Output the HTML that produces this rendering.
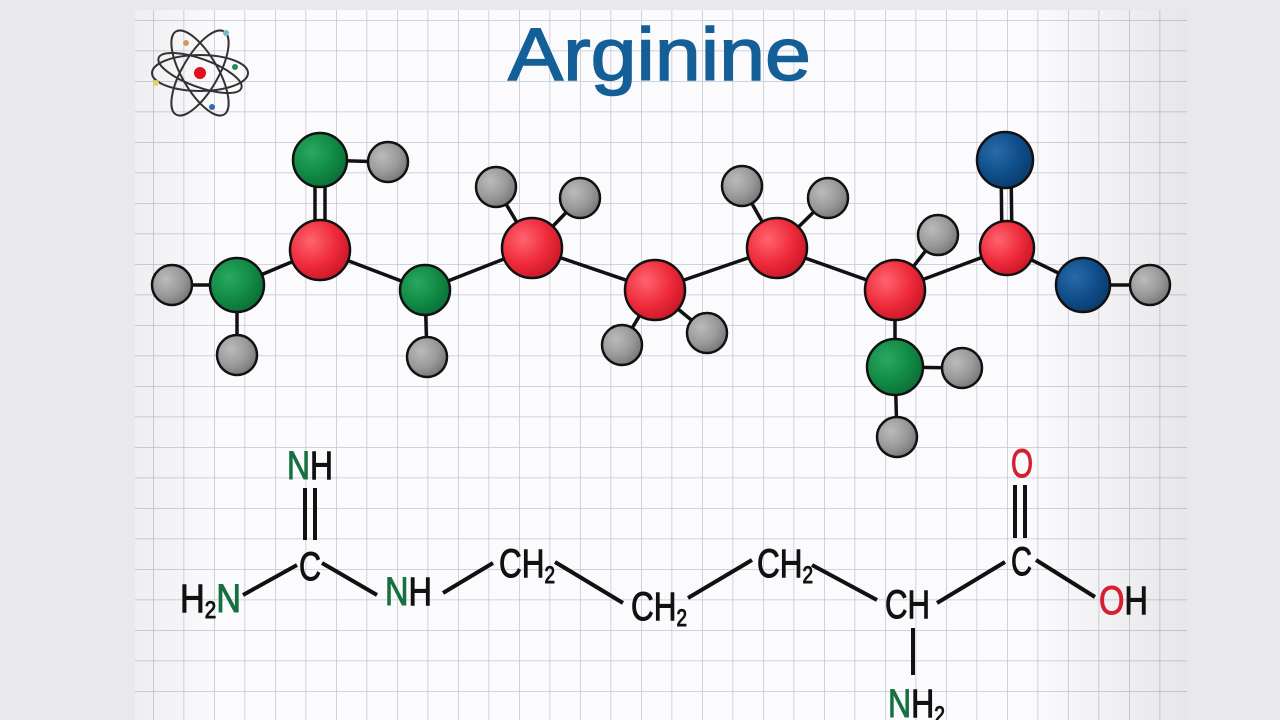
<!DOCTYPE html>
<html><head><meta charset="utf-8"><style>
html,body{margin:0;padding:0;width:1280px;height:720px;overflow:hidden;background:#e9e9eb}
svg{display:block}
</style></head><body>
<svg width="1280" height="720" viewBox="0 0 1280 720" xmlns="http://www.w3.org/2000/svg">
<defs>
<pattern id="g" x="153" y="20" width="30.5" height="30.5" patternUnits="userSpaceOnUse">
<path d="M0 0H30.5M0 0V30.5" stroke="#c2c6d2" stroke-width="1.5" fill="none"/>
</pattern>
<linearGradient id="sh" x1="0" x2="1" y1="0" y2="0">
<stop offset="0" stop-color="#000" stop-opacity="0.05"/>
<stop offset="0.08" stop-color="#000" stop-opacity="0"/>
<stop offset="0.85" stop-color="#000" stop-opacity="0"/>
<stop offset="1" stop-color="#000" stop-opacity="0.08"/>
</linearGradient>
<radialGradient id="r" cx="0.35" cy="0.35" r="0.7"><stop offset="0" stop-color="#ff6470"/><stop offset="0.6" stop-color="#ee2a3a"/><stop offset="1" stop-color="#c81828"/></radialGradient>
<radialGradient id="gr" cx="0.35" cy="0.35" r="0.7"><stop offset="0" stop-color="#2aa860"/><stop offset="0.6" stop-color="#118a45"/><stop offset="1" stop-color="#0b6e36"/></radialGradient>
<radialGradient id="b" cx="0.35" cy="0.35" r="0.7"><stop offset="0" stop-color="#2a6aa8"/><stop offset="0.6" stop-color="#0f4d8a"/><stop offset="1" stop-color="#0a3b6c"/></radialGradient>
<radialGradient id="h" cx="0.35" cy="0.35" r="0.7"><stop offset="0" stop-color="#bbb"/><stop offset="0.6" stop-color="#999"/><stop offset="1" stop-color="#777"/></radialGradient>
</defs>
<rect x="135" y="10" width="1052" height="710" fill="#fbfbfd"/>
<rect x="135" y="10" width="1052" height="710" fill="url(#g)"/>
<rect x="135" y="10" width="1052" height="710" fill="url(#sh)"/>

<g transform="translate(200,73)" fill="none" stroke="#333" stroke-width="2">
<ellipse rx="48" ry="18"/>
<ellipse rx="48" ry="18" transform="rotate(60)"/>
<ellipse rx="48" ry="18" transform="rotate(-60)"/>
<ellipse rx="44" ry="14" transform="rotate(20)"/>
<circle r="6" fill="#e01020" stroke="none"/>
<circle cx="-44" cy="10" r="3" fill="#e6d36a" stroke="none"/>
<circle cx="-14" cy="-30" r="3" fill="#d09a60" stroke="none"/>
<circle cx="26" cy="-40" r="3" fill="#7ab8c8" stroke="none"/>
<circle cx="35" cy="-6" r="3" fill="#2a8a50" stroke="none"/>
<circle cx="12" cy="34" r="3" fill="#3a6aa8" stroke="none"/>
</g>

<text x="508" y="80" textLength="303" lengthAdjust="spacingAndGlyphs" font-family="Liberation Sans, sans-serif" font-size="74" fill="#155f98" stroke="#155f98" stroke-width="1.5">Arginine</text>

<g stroke="#111" stroke-width="3.5" fill="none">
<line x1="315" y1="160" x2="315" y2="250"/><line x1="325" y1="160" x2="325" y2="250"/>
<line x1="388" y1="162" x2="320" y2="160"/>
<line x1="320" y1="250" x2="237" y2="285"/>
<line x1="237" y1="285" x2="172" y2="285"/>
<line x1="237" y1="285" x2="237" y2="355"/>
<line x1="320" y1="250" x2="425" y2="290"/>
<line x1="425" y1="290" x2="427" y2="357"/>
<line x1="425" y1="290" x2="532" y2="248"/>
<line x1="532" y1="248" x2="496" y2="187"/><line x1="532" y1="248" x2="580" y2="198"/>
<line x1="532" y1="248" x2="655" y2="290"/>
<line x1="655" y1="290" x2="622" y2="345"/><line x1="655" y1="290" x2="707" y2="333"/>
<line x1="655" y1="290" x2="777" y2="248"/>
<line x1="777" y1="248" x2="742" y2="186"/><line x1="777" y1="248" x2="828" y2="198"/>
<line x1="777" y1="248" x2="895" y2="290"/>
<line x1="895" y1="290" x2="938" y2="235"/>
<line x1="895" y1="290" x2="895" y2="367"/>
<line x1="895" y1="367" x2="962" y2="368"/><line x1="895" y1="367" x2="897" y2="437"/>
<line x1="895" y1="290" x2="1007" y2="248"/>
<line x1="1001" y1="160" x2="1002" y2="248"/><line x1="1011" y1="160" x2="1012" y2="248"/>
<line x1="1007" y1="248" x2="1083" y2="285"/>
<line x1="1083" y1="285" x2="1150" y2="285"/>
</g>
<g stroke="#111" stroke-width="2.5">
<circle cx="388" cy="162" r="20" fill="url(#h)"/>
<circle cx="172" cy="285" r="20" fill="url(#h)"/>
<circle cx="237" cy="355" r="20" fill="url(#h)"/>
<circle cx="427" cy="357" r="20" fill="url(#h)"/>
<circle cx="496" cy="187" r="20" fill="url(#h)"/>
<circle cx="580" cy="198" r="20" fill="url(#h)"/>
<circle cx="622" cy="345" r="20" fill="url(#h)"/>
<circle cx="707" cy="333" r="20" fill="url(#h)"/>
<circle cx="742" cy="186" r="20" fill="url(#h)"/>
<circle cx="828" cy="198" r="20" fill="url(#h)"/>
<circle cx="938" cy="235" r="20" fill="url(#h)"/>
<circle cx="962" cy="368" r="20" fill="url(#h)"/>
<circle cx="897" cy="437" r="20" fill="url(#h)"/>
<circle cx="1150" cy="285" r="20" fill="url(#h)"/>
<circle cx="320" cy="160" r="27" fill="url(#gr)"/>
<circle cx="237" cy="285" r="27" fill="url(#gr)"/>
<circle cx="425" cy="290" r="25" fill="url(#gr)"/>
<circle cx="895" cy="367" r="28" fill="url(#gr)"/>
<circle cx="320" cy="250" r="30" fill="url(#r)"/>
<circle cx="532" cy="248" r="30" fill="url(#r)"/>
<circle cx="655" cy="290" r="30" fill="url(#r)"/>
<circle cx="777" cy="248" r="30" fill="url(#r)"/>
<circle cx="895" cy="290" r="30" fill="url(#r)"/>
<circle cx="1007" cy="248" r="27" fill="url(#r)"/>
<circle cx="1005" cy="160" r="28" fill="url(#b)"/>
<circle cx="1083" cy="285" r="27" fill="url(#b)"/>
</g>

<g stroke="#111" stroke-width="4" fill="none">
<line x1="305" y1="488" x2="305" y2="540"/><line x1="315" y1="488" x2="315" y2="540"/>
<line x1="243" y1="595" x2="297" y2="565"/>
<line x1="322" y1="563" x2="377" y2="595"/>
<line x1="443" y1="593" x2="493" y2="563"/>
<line x1="555" y1="562" x2="623" y2="603"/>
<line x1="688" y1="598" x2="752" y2="560"/>
<line x1="812" y1="565" x2="877" y2="600"/>
<line x1="937" y1="603" x2="1005" y2="562"/>
<line x1="1036" y1="560" x2="1095" y2="597"/>
<line x1="1015" y1="485" x2="1015" y2="538"/><line x1="1025" y1="485" x2="1025" y2="538"/>
<line x1="913" y1="628" x2="913" y2="675"/>
</g>
<g font-family="Liberation Sans, sans-serif" font-size="40" fill="#111" stroke="#111" stroke-width="1">
<text x="287" y="479" textLength="46" lengthAdjust="spacingAndGlyphs"><tspan fill="#167040" stroke="#167040">N</tspan>H</text>
<text x="299" y="580" textLength="22" lengthAdjust="spacingAndGlyphs">C</text>
<text x="180" y="612" textLength="61" lengthAdjust="spacingAndGlyphs">H<tspan font-size="24" dy="6">2</tspan><tspan fill="#167040" stroke="#167040" dy="-6">N</tspan></text>
<text x="385" y="605" textLength="47" lengthAdjust="spacingAndGlyphs"><tspan fill="#167040" stroke="#167040">N</tspan>H</text>
<text x="499" y="577" textLength="56" lengthAdjust="spacingAndGlyphs">CH<tspan font-size="24" dy="6">2</tspan></text>
<text x="631" y="620" textLength="56" lengthAdjust="spacingAndGlyphs">CH<tspan font-size="24" dy="6">2</tspan></text>
<text x="757" y="577" textLength="56" lengthAdjust="spacingAndGlyphs">CH<tspan font-size="24" dy="6">2</tspan></text>
<text x="885" y="618" textLength="45" lengthAdjust="spacingAndGlyphs">CH</text>
<text x="1011" y="575" textLength="21" lengthAdjust="spacingAndGlyphs">C</text>
<text x="1011" y="477" textLength="22" lengthAdjust="spacingAndGlyphs" fill="#d42030" stroke="#d42030">O</text>
<text x="1099" y="614" textLength="49" lengthAdjust="spacingAndGlyphs"><tspan fill="#d42030" stroke="#d42030">O</tspan>H</text>
<text x="888" y="717" textLength="57" lengthAdjust="spacingAndGlyphs"><tspan fill="#167040" stroke="#167040">N</tspan>H<tspan font-size="24" dy="6">2</tspan></text>
</g>
</svg>
</body></html>
